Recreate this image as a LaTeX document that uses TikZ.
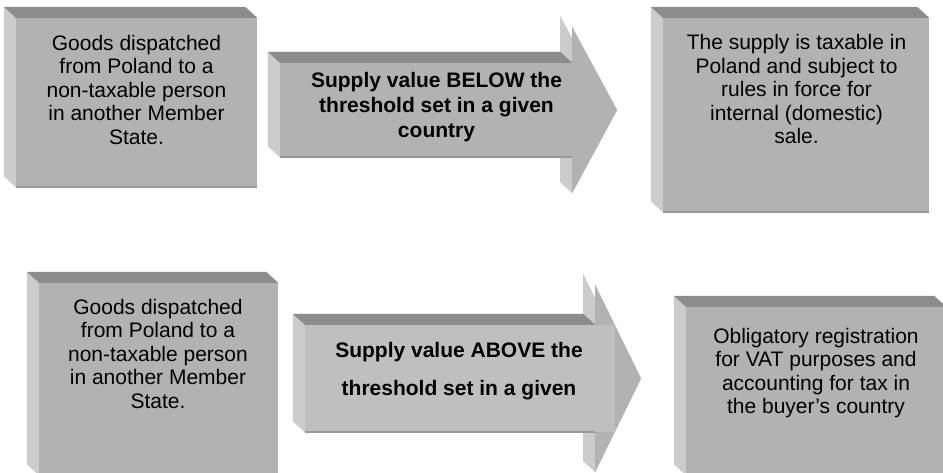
\documentclass[tikz,border=0pt]{standalone}
\usepackage{fontspec}
\setmainfont{Liberation Sans}
\usetikzlibrary{backgrounds}
\definecolor{frontGray}{gray}{0.70}
\definecolor{topGray}{gray}{0.55}
\definecolor{sideGray}{gray}{0.80}
\definecolor{bodyGray}{gray}{0.75}
\definecolor{edgeGray}{gray}{0.60}
\newcommand\faceColor{frontGray}
\newcommand\topColor{topGray}
\newcommand\sideColor{sideGray}
\newcommand\edgeColor{edgeGray}
\newcommand\edgeLineWidth{1.5pt}
\newcommand\depthX{-12}
\newcommand\depthY{11}
\newcommand\boxFont{\fontsize{21}{23.5}\selectfont}
\newcommand\arrowFont{\bfseries\fontsize{21}{25}\selectfont}
\newcommand\arrowWideFont{\bfseries\fontsize{21}{38}\selectfont}

\begin{document}
\begin{tikzpicture}[x=1pt, y=1pt,
    recede/.style={shift={(\depthX,\depthY)}},
    front/.style={fill=\faceColor, draw=none, inner sep=0pt, shape=rectangle, anchor=center},
    boxtext/.style={align=center, inner sep=0pt, font=\boxFont},
    arrowtext/.style={align=center, inner sep=0pt, font=\arrowFont}]

    \useasboundingbox (0,0) rectangle (943,472);

    % front faces of the boxes
    \node (Box_Goods_Top) [front, minimum width=241, minimum height=169] at (136.5,369.5) {};
    \node (Box_Taxable) [front, minimum width=266, minimum height=194] at (796,357) {};
    \node (Box_Goods_Bottom) [front, minimum width=239, minimum height=192] at (158.5,93) {};
    \node (Box_Register) [front, minimum width=260, minimum height=168] at (816,81) {};

    % arrow bodies
    \node (Arrow_Below) [front, minimum width=292, minimum height=94] at (426,362) {};
    \node (Arrow_Above) [front, fill=bodyGray, minimum width=310, minimum height=107] at (460,93.5) {};

    \begin{scope}[on background layer]
    % side and top faces
    \foreach \b in {Box_Goods_Top,Box_Taxable,Box_Goods_Bottom,Box_Register}{
        \fill[\sideColor] ([recede]\b.north west) -- (\b.north west) -- (\b.south west) -- ([recede]\b.south west) -- cycle;
        \fill[\topColor] ([recede]\b.north west) -- ([recede]\b.north east) -- (\b.north east) -- (\b.north west) -- cycle;
    }

    %Arrow one
    \fill[\sideColor] ([recede]Arrow_Below.north west) -- ([recede]Arrow_Below.north east) -- ([recede,yshift=36]Arrow_Below.north east) -- ([recede,xshift=45]Arrow_Below.east) -- ([recede,yshift=-36]Arrow_Below.south east) -- ([recede]Arrow_Below.south east) -- ([recede]Arrow_Below.south west) -- cycle;
    \fill[\sideColor] ([recede]Arrow_Below.north west) -- (Arrow_Below.north west) -- (Arrow_Below.south west) -- ([recede]Arrow_Below.south west) -- cycle;
    \fill[\sideColor] ([recede]Arrow_Below.south east) -- (Arrow_Below.south east) -- ([yshift=-36]Arrow_Below.south east) -- ([recede,yshift=-36]Arrow_Below.south east) -- cycle;
    \fill[\topColor] ([recede]Arrow_Below.north west) -- ([recede]Arrow_Below.north east) -- (Arrow_Below.north east) -- (Arrow_Below.north west) -- cycle;
    \fill[\faceColor] ([yshift=36]Arrow_Below.north east) -- ([xshift=45]Arrow_Below.east) -- ([yshift=-36]Arrow_Below.south east) -- cycle;

    %Arrow two
    \fill[\sideColor] ([recede]Arrow_Above.north west) -- ([recede,xshift=-20]Arrow_Above.north east) -- ([recede,xshift=-20,yshift=40]Arrow_Above.north east) -- ([recede,xshift=26]Arrow_Above.east) -- ([recede,xshift=-20,yshift=-40]Arrow_Above.south east) -- ([recede,xshift=-20]Arrow_Above.south east) -- ([recede]Arrow_Above.south west) -- cycle;
    \fill[\sideColor] ([recede]Arrow_Above.north west) -- (Arrow_Above.north west) -- (Arrow_Above.south west) -- ([recede]Arrow_Above.south west) -- cycle;
    \fill[\sideColor] ([recede,xshift=-20]Arrow_Above.south east) -- ([xshift=-20]Arrow_Above.south east) -- ([xshift=-20,yshift=-40]Arrow_Above.south east) -- ([recede,xshift=-20,yshift=-40]Arrow_Above.south east) -- cycle;
    \fill[\topColor] ([recede]Arrow_Above.north west) -- ([recede,xshift=-20]Arrow_Above.north east) -- ([xshift=-20]Arrow_Above.north east) -- (Arrow_Above.north west) -- cycle;
    \fill[\faceColor] ([xshift=-20,yshift=40]Arrow_Above.north east) -- ([xshift=26]Arrow_Above.east) -- ([xshift=-20,yshift=-40]Arrow_Above.south east) -- cycle;
    \end{scope}

    % darker bottom edges
    \draw [draw=\edgeColor, line width=\edgeLineWidth] (Box_Goods_Top.south west) -- (Box_Goods_Top.south east);
    \draw [draw=\edgeColor, line width=\edgeLineWidth] (Box_Taxable.south west) -- (Box_Taxable.south east);
    \draw [draw=\edgeColor, line width=\edgeLineWidth] (Arrow_Below.south west) -- (Arrow_Below.south east);
    \draw [draw=\edgeColor, line width=\edgeLineWidth] (Arrow_Above.south west) -- ([xshift=-20]Arrow_Above.south east);

    % texts
    \node (Text_Goods_Top) [boxtext] at (136.5,382.5) {Goods dispatched\\from Poland to a\\non-taxable person\\in another Member\\State.};
    \node (Text_Taxable) [boxtext] at (796.5,383) {The supply is taxable in\\Poland and subject to\\rules in force for\\internal (domestic)\\sale.};
    \node (Text_Goods_Bottom) [boxtext] at (158,118.5) {Goods dispatched\\from Poland to a\\non-taxable person\\in another Member\\State.};
    \node (Text_Register) [boxtext] at (816,99) {Obligatory registration\\for VAT purposes and\\accounting for tax in\\the buyer’s country};
    \node (Text_Below) [arrowtext] at (436.5,365) {Supply value BELOW the\\threshold set in a given\\country};
    \node (Text_Above) [arrowtext, font=\arrowWideFont] at (459,101) {Supply value ABOVE the\\threshold set in a given};

\end{tikzpicture}
\end{document}
